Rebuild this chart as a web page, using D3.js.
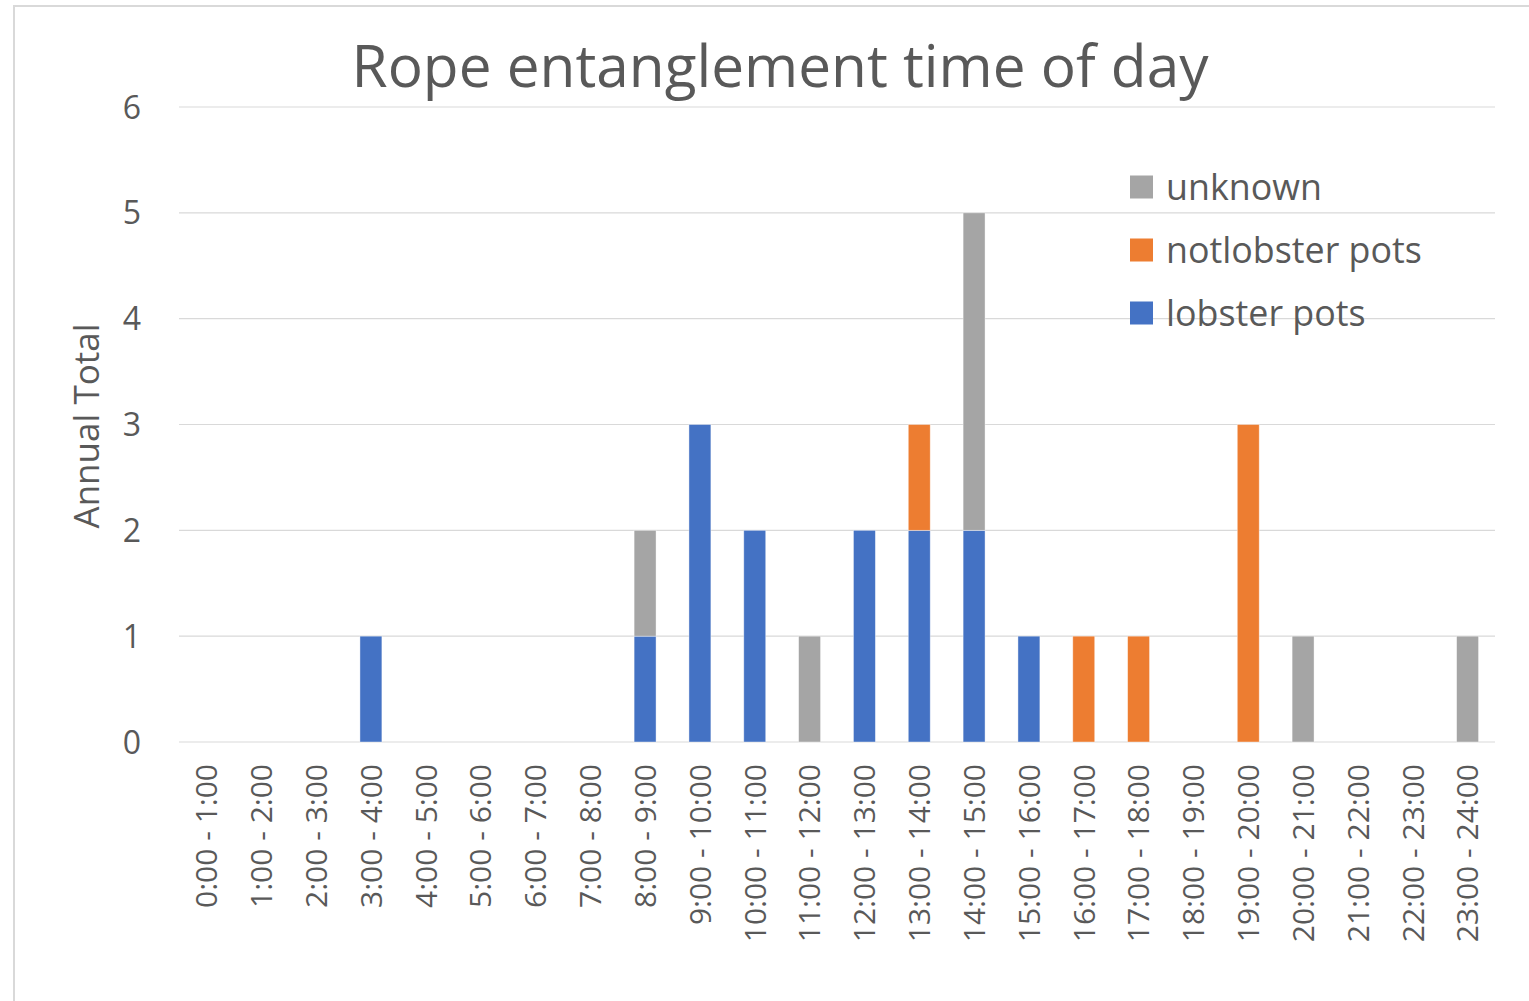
<!DOCTYPE html>
<html>
<head>
<meta charset="utf-8">
<script src="https://cdn.jsdelivr.net/npm/d3@7"></script>
<style>
  body { margin: 0; background: #fff; }
  text { font-family: "Open Sans", sans-serif; fill: #595959; }
</style>
</head>
<body>
<svg width="1529" height="1001"></svg>
<script>
// hour slots
const hours = [
  "0:00 - 1:00", "1:00 - 2:00", "2:00 - 3:00", "3:00 - 4:00", "4:00 - 5:00",
  "5:00 - 6:00", "6:00 - 7:00", "7:00 - 8:00", "8:00 - 9:00", "9:00 - 10:00",
  "10:00 - 11:00", "11:00 - 12:00", "12:00 - 13:00", "13:00 - 14:00", "14:00 - 15:00",
  "15:00 - 16:00", "16:00 - 17:00", "17:00 - 18:00", "18:00 - 19:00", "19:00 - 20:00",
  "20:00 - 21:00", "21:00 - 22:00", "22:00 - 23:00", "23:00 - 24:00"
];
const lobster    = [0,0,0,1,0,0,0,0,1,3,2,0,2,2,2,1,0,0,0,0,0,0,0,0];
const notlobster = [0,0,0,0,0,0,0,0,0,0,0,0,0,1,0,0,1,1,0,3,0,0,0,0];
const unknown    = [0,0,0,0,0,0,0,0,1,0,0,1,0,0,3,0,0,0,0,0,1,0,0,1];
const yTicks = [0, 1, 2, 3, 4, 5, 6];

const seriesNames = ["lobster pots", "notlobster pots", "unknown"];
const colors = ["#4472c4", "#ed7d31", "#a5a5a5"];

const svg = d3.select("svg");

// chart frame
svg.append("rect")
  .attr("x", 14).attr("y", 6)
  .attr("width", 1530).attr("height", 1010)
  .attr("fill", "none")
  .attr("stroke", "#d9d9d9")
  .attr("stroke-width", 2);

const x = d3.scaleBand().domain(hours).range([179, 1495]).paddingInner(0.6).paddingOuter(0.3);
const y = d3.scaleLinear().domain([0, 6]).range([742, 107]);

// gridlines
svg.append("g")
  .selectAll("line")
  .data(yTicks)
  .join("line")
  .attr("x1", 179).attr("x2", 1495)
  .attr("y1", d => y(d)).attr("y2", d => y(d))
  .attr("stroke", "#d9d9d9")
  .attr("stroke-width", 1.2);

// y tick labels
svg.append("g")
  .selectAll("text")
  .data(yTicks)
  .join("text")
  .attr("x", 141)
  .attr("y", d => y(d))
  .attr("dy", "0.36em")
  .attr("text-anchor", "end")
  .attr("font-size", 32)
  .text(d => d);

// stacked data
const rows = hours.map((h, i) => ({
  hour: h,
  "lobster pots": lobster[i],
  "notlobster pots": notlobster[i],
  "unknown": unknown[i]
}));
const stacked = d3.stack().keys(seriesNames)(rows);

svg.append("g")
  .selectAll("g")
  .data(stacked)
  .join("g")
  .attr("fill", (d, i) => colors[i])
  .selectAll("rect")
  .data(d => d.filter(s => s[1] - s[0] > 0))
  .join("rect")
  .attr("x", d => x(d.data.hour))
  .attr("width", x.bandwidth())
  .attr("y", d => y(d[1]))
  .attr("height", d => y(d[0]) - y(d[1]))
  .attr("stroke", "#ffffff")
  .attr("stroke-opacity", 0.5)
  .attr("stroke-width", 0.8);

// x tick labels (rotated)
svg.append("g")
  .selectAll("text")
  .data(hours)
  .join("text")
  .attr("transform", d => `translate(${x(d) + x.bandwidth() / 2},764) rotate(-90)`)
  .attr("dy", "0.36em")
  .attr("text-anchor", "end")
  .attr("font-size", 30)
  .text(d => d);

// y axis title
svg.append("text")
  .attr("transform", "translate(99,426) rotate(-90)")
  .attr("text-anchor", "middle")
  .attr("font-size", 35)
  .text("Annual Total");

// title
svg.append("text")
  .attr("x", 780).attr("y", 87)
  .attr("text-anchor", "middle")
  .attr("font-size", 58.5)
  .text("Rope entanglement time of day");

// legend, top entry is the top of the stack
const legendOrder = [2, 1, 0];
const legend = svg.append("g")
  .selectAll("g")
  .data(legendOrder)
  .join("g")
  .attr("transform", (d, i) => `translate(1130,${187 + i * 63})`);

legend.append("rect")
  .attr("x", 0).attr("y", -11.5)
  .attr("width", 23).attr("height", 23)
  .attr("fill", d => colors[d]);

legend.append("text")
  .attr("x", 36).attr("y", 0)
  .attr("dy", "0.35em")
  .attr("font-size", 35.8)
  .text(d => seriesNames[d]);
</script>
</body>
</html>
